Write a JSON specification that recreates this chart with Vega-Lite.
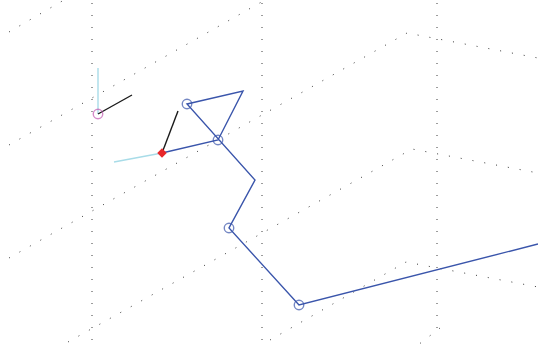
{
  "$schema": "https://vega.github.io/schema/vega-lite/v6.json",
  "width": 538,
  "height": 355,
  "padding": 0,
  "autosize": {"type": "none"},
  "background": "white",
  "config": {"view": {"stroke": null}},
  "datasets": {
    "grid": [
      {"id": "g1", "o": 0, "x": 9, "y": 32},
      {"id": "g1", "o": 1, "x": 64, "y": 0},
      {"id": "g2", "o": 0, "x": 9, "y": 145},
      {"id": "g2", "o": 1, "x": 265, "y": 0},
      {"id": "g3", "o": 0, "x": 9, "y": 258},
      {"id": "g3", "o": 1, "x": 407, "y": 33},
      {"id": "g3", "o": 2, "x": 538, "y": 58},
      {"id": "g4", "o": 0, "x": 68, "y": 342},
      {"id": "g4", "o": 1, "x": 412, "y": 149},
      {"id": "g4", "o": 2, "x": 538, "y": 173},
      {"id": "g5", "o": 0, "x": 270, "y": 340},
      {"id": "g5", "o": 1, "x": 406, "y": 262},
      {"id": "g5", "o": 2, "x": 538, "y": 287},
      {"id": "g6", "o": 0, "x": 440, "y": 328},
      {"id": "g6", "o": 1, "x": 418, "y": 345},
      {"id": "v1", "o": 0, "x": 92, "y": 3},
      {"id": "v1", "o": 1, "x": 92, "y": 340},
      {"id": "v2", "o": 0, "x": 262, "y": 3},
      {"id": "v2", "o": 1, "x": 262, "y": 340},
      {"id": "v3", "o": 0, "x": 437, "y": 3},
      {"id": "v3", "o": 1, "x": 437, "y": 328}
    ],
    "segs": [
      {"id": "main", "c": "blue", "o": 0, "x": 162, "y": 153},
      {"id": "main", "c": "blue", "o": 1, "x": 218, "y": 140},
      {"id": "main", "c": "blue", "o": 2, "x": 243, "y": 91},
      {"id": "main", "c": "blue", "o": 3, "x": 187, "y": 104},
      {"id": "main", "c": "blue", "o": 4, "x": 255, "y": 180},
      {"id": "main", "c": "blue", "o": 5, "x": 229, "y": 228},
      {"id": "main", "c": "blue", "o": 6, "x": 299, "y": 305},
      {"id": "main", "c": "blue", "o": 7, "x": 538, "y": 244},
      {"id": "a1", "c": "cyan", "o": 0, "x": 98, "y": 114},
      {"id": "a1", "c": "cyan", "o": 1, "x": 98, "y": 68},
      {"id": "a2", "c": "black", "o": 0, "x": 98, "y": 114},
      {"id": "a2", "c": "black", "o": 1, "x": 132, "y": 95},
      {"id": "a3", "c": "cyan", "o": 0, "x": 162, "y": 153},
      {"id": "a3", "c": "cyan", "o": 1, "x": 114, "y": 162},
      {"id": "a4", "c": "black", "o": 0, "x": 162, "y": 153},
      {"id": "a4", "c": "black", "o": 1, "x": 178, "y": 111}
    ],
    "marks": [
      {"x": 187, "y": 104, "k": "blue"},
      {"x": 218, "y": 140, "k": "blue"},
      {"x": 229, "y": 228, "k": "blue"},
      {"x": 299, "y": 305, "k": "blue"},
      {"x": 98, "y": 114, "k": "magenta"}
    ],
    "diam": [
      {"x": 162, "y": 153}
    ]
  },
  "layer": [
    {
      "data": {"name": "grid"},
      "mark": {"type": "line", "stroke": "#3a3a3a", "strokeWidth": 1, "strokeDash": [1, 11]},
      "encoding": {
        "x": {"field": "x", "type": "quantitative", "scale": {"domain": [0, 538], "nice": false, "zero": false}, "axis": null},
        "y": {"field": "y", "type": "quantitative", "scale": {"domain": [0, 355], "nice": false, "zero": false, "reverse": true}, "axis": null},
        "detail": {"field": "id"},
        "order": {"field": "o"}
      }
    },
    {
      "data": {"name": "segs"},
      "mark": {"type": "line", "strokeWidth": 1.4},
      "encoding": {
        "x": {"field": "x", "type": "quantitative", "scale": {"domain": [0, 538], "nice": false, "zero": false}, "axis": null},
        "y": {"field": "y", "type": "quantitative", "scale": {"domain": [0, 355], "nice": false, "zero": false, "reverse": true}, "axis": null},
        "detail": {"field": "id"},
        "order": {"field": "o"},
        "color": {"field": "c", "type": "nominal", "scale": {"domain": ["blue", "cyan", "black"], "range": ["#3a55ab", "#a8dce8", "#1a1a1a"]}, "legend": null}
      }
    },
    {
      "data": {"name": "marks"},
      "mark": {"type": "point", "shape": "circle", "filled": false, "size": 90, "strokeWidth": 1.4},
      "encoding": {
        "x": {"field": "x", "type": "quantitative", "scale": {"domain": [0, 538], "nice": false, "zero": false}, "axis": null},
        "y": {"field": "y", "type": "quantitative", "scale": {"domain": [0, 355], "nice": false, "zero": false, "reverse": true}, "axis": null},
        "stroke": {"field": "k", "type": "nominal", "scale": {"domain": ["blue", "magenta"], "range": ["#3a55ab", "#c25bb3"]}, "legend": null}
      }
    },
    {
      "data": {"name": "diam"},
      "mark": {"type": "point", "shape": "diamond", "filled": true, "size": 90, "color": "#e8262a", "opacity": 1},
      "encoding": {
        "x": {"field": "x", "type": "quantitative", "scale": {"domain": [0, 538], "nice": false, "zero": false}, "axis": null},
        "y": {"field": "y", "type": "quantitative", "scale": {"domain": [0, 355], "nice": false, "zero": false, "reverse": true}, "axis": null}
      }
    }
  ]
}
